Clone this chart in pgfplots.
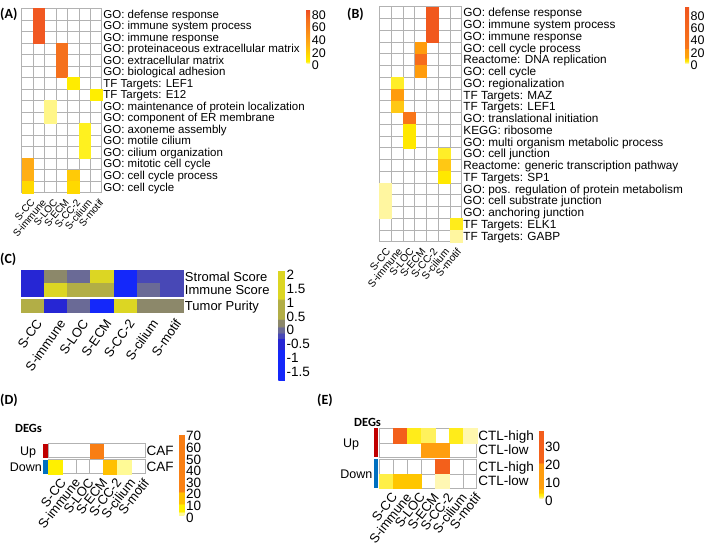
\documentclass[border=0pt]{standalone}
\usepackage{pgfplots}
\pgfplotsset{compat=1.18}
\usepackage{fontspec}
\setmainfont{Liberation Sans}
\newfontfamily\carl{Carlito}
\newcommand{\fs}[1]{\fontsize{#1}{#1}\selectfont}
\definecolor{upred}{RGB}{192,0,0}
\definecolor{dnblue}{RGB}{0,112,192}
\pgfplotsset{
  hm/.style={
    scale only axis, anchor=north west, axis on top, clip=false,
    xmin=-0.5, xmax=6.5, xtick={0,...,6},
    major tick length=0pt, minor tick length=0pt,
    axis line style={draw=gray!60, line width=0.5pt},
    minor grid style={draw=gray!60, line width=0.5pt},
    yticklabel pos=right,
    yticklabel style={anchor=west, inner sep=1.5pt, text depth=0pt},
    xticklabels={S-CC,S-immune,S-LOC,S-ECM,S-CC-2,S-cilium,S-motif},
    xticklabel style={anchor=north east, inner sep=1pt},
    point meta=explicit,
  },
  cells/.style={scatter, only marks, mark=square*, mark size=#1,
    scatter/use mapped color={draw=mapped color, fill=mapped color}, line width=0.2pt},
  cbs/.style={colorbar style={anchor=north west, scale only axis,
    axis line style={draw=none}, major tick length=0pt,
    yticklabel style={inner sep=1.5pt, yshift=-2pt},
    /pgf/number format/assume math mode=true}},
}
\begin{document}
\begin{tikzpicture}
\useasboundingbox (0pt,0pt) rectangle (709pt,546pt);
\coordinate (cbA) at (298.2pt,536.7pt);
\coordinate (cbB) at (676.5pt,539.3pt);
\coordinate (cbC) at (269.8pt,275.7pt);
\coordinate (cbD) at (170.5pt,111.7pt);
\coordinate (cbE) at (530.8pt,115.7pt);

% ---------------- Panel A
\begin{axis}[hm, at={(21.7pt,537.7pt)}, width=80pt, height=184.4pt,
  ymin=-15.5, ymax=0.5, ytick={-15,...,0},
  yticklabels={GO: cell cycle, GO: cell cycle process, GO: mitotic cell cycle, GO: cilium organization, GO: motile cilium, GO: axoneme assembly, GO: component of ER membrane, GO: maintenance of protein localization, TF Targets: E12, TF Targets: LEF1, GO: biological adhesion, GO: extracellular matrix, GO: proteinaceous extracellular matrix, GO: immune response, GO: immune system process, GO: defense response},
  yticklabel style={font=\fs{11.5}, text height=8.2pt},
  xtick={0.2,1.2,2.2,3.2,4.2,5.2,6.2},
  minor xtick={0.5,1.5,...,5.5}, minor ytick={-14.5,-13.5,...,-0.5}, xminorgrids, yminorgrids,
  xticklabel style={rotate=50, font=\fs{10}}, xticklabel shift=4pt,
  colormap={hA}{rgb255(0pt)=(255,248,185); rgb255(30pt)=(255,240,0); rgb255(150pt)=(255,215,0); rgb255(300pt)=(255,175,20); rgb255(500pt)=(250,140,25); rgb255(700pt)=(245,110,30); rgb255(860pt)=(238,75,35)},
  point meta min=0, point meta max=86,
  colorbar, colorbar style={at={(cbA)}, width=3.5pt, height=54pt, ytick={0,20,40,60,80}, yticklabel style={font=\fs{12.5}}}, cbs]
\addplot[cells=5.74pt] table[meta=v]{
x y v
1 0 80
1 -1 80
1 -2 80
3 -3 68
3 -4 68
3 -5 68
4 -6 5
6 -7 4
2 -8 0.8
2 -9 0.8
5 -10 2.5
5 -11 2.5
5 -12 2.5
0 -13 33
0 -14 30
4 -14 20
0 -15 14
4 -15 14
};
\end{axis}

% ---------------- Panel B
\begin{axis}[hm, at={(379.3pt,539.3pt)}, width=82.4pt, height=235pt,
  ymin=-19.5, ymax=0.5, ytick={-19,...,0},
  yticklabels={TF Targets: GABP, TF Targets: ELK1, GO: anchoring junction, GO: cell substrate junction, GO: pos. regulation of protein metabolism, TF Targets: SP1, Reactome: generic transcription pathway, GO: cell junction, GO: multi organism metabolic process, KEGG: ribosome, GO: translational initiation, TF Targets: LEF1, TF Targets: MAZ, GO: regionalization, GO: cell cycle, Reactome: DNA replication, GO: cell cycle process, GO: immune response, GO: immune system process, GO: defense response},
  yticklabel style={font=\fs{11.8}, text height=8.4pt},
  minor xtick={0.5,1.5,...,5.5}, minor ytick={-18.5,-17.5,...,-0.5}, xminorgrids, yminorgrids,
  xticklabel style={rotate=50, font=\fs{10.3}}, xticklabel shift=4pt,
  colormap={hB}{rgb255(0pt)=(255,248,190); rgb255(25pt)=(255,238,40); rgb255(40pt)=(255,232,0); rgb255(80pt)=(255,200,20); rgb255(85pt)=(255,165,10); rgb255(240pt)=(255,150,15); rgb255(245pt)=(248,118,25); rgb255(920pt)=(240,85,30)},
  point meta min=0, point meta max=92,
  colorbar, colorbar style={at={(cbB)}, width=4pt, height=56.6pt, ytick={0,20,40,60,80}, yticklabel style={font=\fs{12.5}}}, cbs]
\addplot[cells=5.88pt] table[meta=v]{
x y v
4 0 85
4 -1 85
4 -2 85
3 -3 18
3 -4 45
3 -5 18
1 -6 2.5
1 -7 18
1 -8 8
2 -9 26
2 -10 4
2 -11 4
5 -12 2.5
5 -13 8
5 -14 4
0 -15 0.5
0 -16 0.5
0 -17 0.5
6 -18 3
6 -19 0.5
};
\end{axis}

% ---------------- Panel C
\begin{axis}[hm, at={(21pt,276pt)}, width=162.3pt, height=26pt,
  axis line style={draw=gray!25},
  ymin=-1.5, ymax=0.5, ytick={-1,0}, yticklabels={Immune Score, Stromal Score},
  yticklabel style={font=\fs{13}, text height=9.4pt},
  xtick=\empty,
  colormap={hC}{rgb255(0pt)=(20,40,250); rgb255(110pt)=(20,40,250); rgb255(111pt)=(38,38,212); rgb255(150pt)=(38,38,212); rgb255(151pt)=(72,72,182); rgb255(171pt)=(72,72,182); rgb255(172pt)=(106,106,150); rgb255(193pt)=(106,106,150); rgb255(194pt)=(140,136,106); rgb255(220pt)=(140,136,106); rgb255(221pt)=(178,174,70); rgb255(292pt)=(178,174,70); rgb255(293pt)=(220,214,35); rgb255(398pt)=(220,214,35)},
  point meta min=-1.88, point meta max=2.1,
  colorbar, colorbar style={at={(cbC)}, width=6.5pt, height=110pt, ytick={-1.5,-1,...,2}, yticklabel style={font=\fs{13.5}}}, cbs]
\addplot[cells=6.5pt, mark options={xscale=1.784}] table[meta=v]{
x y v
0 0 -0.57
1 0 0.2
2 0 -0.05
3 0 1.6
4 0 -1.3
5 0 -0.27
6 0 -0.27
0 -1 -0.57
1 -1 1.6
2 -1 0.7
3 -1 0.7
4 -1 -1.3
5 -1 -0.05
6 -1 -0.27
};
\end{axis}
\begin{axis}[hm, at={(21pt,246.5pt)}, width=162.3pt, height=13pt,
  axis line style={draw=gray!25},
  ymin=-0.5, ymax=0.5, ytick={0}, yticklabels={Tumor Purity},
  yticklabel style={font=\fs{13}, text height=9.4pt},
  xtick={0.1,1.1,2.1,3.1,4.1,5.1,6.1},
  xticklabel style={rotate=55, font=\fs{13}}, xticklabel shift=4pt,
  colormap={hC}{rgb255(0pt)=(20,40,250); rgb255(110pt)=(20,40,250); rgb255(111pt)=(38,38,212); rgb255(150pt)=(38,38,212); rgb255(151pt)=(72,72,182); rgb255(171pt)=(72,72,182); rgb255(172pt)=(106,106,150); rgb255(193pt)=(106,106,150); rgb255(194pt)=(140,136,106); rgb255(220pt)=(140,136,106); rgb255(221pt)=(178,174,70); rgb255(292pt)=(178,174,70); rgb255(293pt)=(220,214,35); rgb255(398pt)=(220,214,35)},
  point meta min=-1.88, point meta max=2.1]
\addplot[cells=6.5pt, mark options={xscale=1.784}] table[meta=v]{
x y v
0 0 0.7
1 0 -0.57
2 0 -0.05
3 0 -1.3
4 0 1.6
5 0 0.2
6 0 0.2
};
\end{axis}

% ---------------- Panel D
\begin{axis}[hm, at={(48.3pt,102.3pt)}, width=96.7pt, height=14pt,
  ymin=-0.5, ymax=0.5, ytick={0}, yticklabels={CAF},
  yticklabel style={font=\fs{13.5}, text height=9.7pt},
  xtick=\empty, minor xtick={0.5,1.5,...,5.5}, xminorgrids,
  colormap={hD}{rgb255(0pt)=(255,250,150); rgb255(29pt)=(255,250,150); rgb255(30pt)=(255,240,0); rgb255(99pt)=(255,240,0); rgb255(100pt)=(255,192,0); rgb255(199pt)=(255,192,0); rgb255(200pt)=(250,130,20); rgb255(700pt)=(248,125,20)},
  point meta min=0, point meta max=70,
  colorbar, colorbar style={at={(cbD)}, width=5.3pt, height=81.2pt, ytick={0,10,...,70}, yticklabel style={font=\fs{13.5}}}, cbs]
\addplot[cells=6.95pt] table[meta=v]{
x y v
3 0 55
};
\end{axis}
\begin{axis}[hm, at={(48.3pt,86.3pt)}, width=96.7pt, height=14pt,
  ymin=-0.5, ymax=0.5, ytick={0}, yticklabels={CAF},
  yticklabel style={font=\fs{13.5}, text height=9.7pt},
  xtick={0.3,1.3,2.3,3.3,4.3,5.3,6.3},
  minor xtick={0.5,1.5,...,5.5}, xminorgrids,
  xticklabel style={rotate=52, font=\fs{13}}, xticklabel shift=2pt,
  colormap={hD}{rgb255(0pt)=(255,250,150); rgb255(29pt)=(255,250,150); rgb255(30pt)=(255,240,0); rgb255(99pt)=(255,240,0); rgb255(100pt)=(255,192,0); rgb255(199pt)=(255,192,0); rgb255(200pt)=(250,130,20); rgb255(700pt)=(248,125,20)},
  point meta min=0, point meta max=70]
\addplot[cells=6.95pt] table[meta=v]{
x y v
0 0 6
4 0 15
5 0 2
};
\end{axis}

% ---------------- Panel E
\begin{axis}[hm, at={(379.3pt,117.7pt)}, width=97.4pt, height=29pt,
  ymin=-1.5, ymax=0.5, ytick={-1,0}, yticklabels={CTL-low, CTL-high},
  yticklabel style={font=\fs{13.5}, text height=9.7pt},
  xtick=\empty, minor xtick={0.5,1.5,...,5.5}, minor ytick={-0.5}, xminorgrids, yminorgrids,
  colormap={hE}{rgb255(0pt)=(255,248,195); rgb255(15pt)=(255,237,40); rgb255(29pt)=(255,235,0); rgb255(30pt)=(255,200,0); rgb255(54pt)=(255,195,0); rgb255(55pt)=(255,160,15); rgb255(199pt)=(255,155,15); rgb255(200pt)=(245,100,25); rgb255(380pt)=(242,92,28)},
  point meta min=0, point meta max=38,
  colorbar, colorbar style={at={(cbE)}, width=4pt, height=68.4pt, ytick={0,10,20,30}, yticklabel style={font=\fs{13.5}}}, cbs]
\addplot[cells=6.955pt, mark options={yscale=1.042}] table[meta=v]{
x y v
1 0 30
2 0 2
3 0 1
5 0 2
6 0 0.2
3 -1 12
4 -1 12
};
\end{axis}
\begin{axis}[hm, at={(379.3pt,86.7pt)}, width=97.4pt, height=29pt,
  ymin=-1.5, ymax=0.5, ytick={-1,0}, yticklabels={CTL-low, CTL-high},
  yticklabel style={font=\fs{13.5}, text height=9.7pt},
  xtick={0.3,1.3,2.3,3.3,4.3,5.3,6.3},
  minor xtick={0.5,1.5,...,5.5}, minor ytick={-0.5}, xminorgrids, yminorgrids,
  xticklabel style={rotate=52, font=\fs{13}}, xticklabel shift=2pt,
  colormap={hE}{rgb255(0pt)=(255,248,195); rgb255(15pt)=(255,237,40); rgb255(29pt)=(255,235,0); rgb255(30pt)=(255,200,0); rgb255(54pt)=(255,195,0); rgb255(55pt)=(255,160,15); rgb255(199pt)=(255,155,15); rgb255(200pt)=(245,100,25); rgb255(380pt)=(242,92,28)},
  point meta min=0, point meta max=38]
\addplot[cells=6.955pt, mark options={yscale=1.042}] table[meta=v]{
x y v
4 0 30
0 -1 1.2
1 -1 4
2 -1 4
4 -1 0.15
};
\end{axis}

% ---------------- annotations
\begin{scope}[every node/.style={inner sep=0pt, anchor=west}]
\node[font=\carl\bfseries\fs{14}] at (0pt,532pt) {(A)};
\node[font=\carl\bfseries\fs{14}] at (347pt,532pt) {(B)};
\node[font=\carl\bfseries\fs{14}] at (0pt,287pt) {(C)};
\node[font=\carl\bfseries\fs{14}] at (0pt,146pt) {(D)};
\node[font=\carl\bfseries\fs{14}] at (317pt,146pt) {(E)};
\node[font=\carl\bfseries\fs{12.5}] at (15pt,118pt) {DEGs};
\node[font=\carl\bfseries\fs{12.5}] at (354pt,123.3pt) {DEGs};
\node[font=\fs{12.5}, anchor=center, text height=9pt, text depth=0pt] at (28pt,95.3pt) {Up};
\node[font=\fs{12.5}, anchor=east, text height=9pt, text depth=0pt] at (42pt,79.3pt) {Down};
\node[font=\fs{12.5}, anchor=center, text height=9pt, text depth=0pt] at (351pt,103.2pt) {Up};
\node[font=\fs{12.5}, anchor=east, text height=9pt, text depth=0pt] at (372.5pt,72.2pt) {Down};
\end{scope}
\fill[upred] (43.3pt,88.3pt) rectangle (47.7pt,102.3pt);
\fill[dnblue] (43.3pt,72.3pt) rectangle (47.7pt,86.3pt);
\fill[upred] (374.3pt,88.7pt) rectangle (378.3pt,117.7pt);
\fill[dnblue] (374.3pt,57.7pt) rectangle (378.3pt,86.7pt);
\end{tikzpicture}
\end{document}
